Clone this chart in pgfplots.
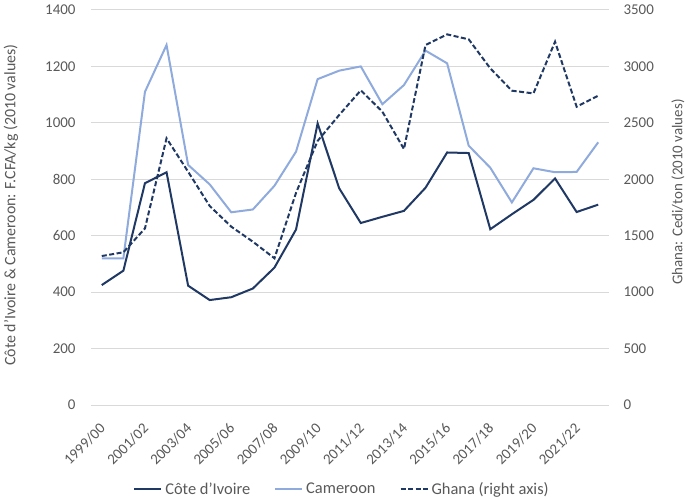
\documentclass[border=0pt]{standalone}
\usepackage{pgfplots}
\pgfplotsset{compat=1.18}
\usepackage{fontspec}
\setmainfont{Carlito}
\definecolor{navy}{HTML}{1F3864}
\definecolor{lightb}{HTML}{8FAADC}
\definecolor{txtgray}{HTML}{595959}
\definecolor{gridgray}{HTML}{D9D9D9}
\pgfplotstableread{
x ci cam gh
0 425 520 1320
1 476 520 1353
2 786 1110 1565
3 825 1276 2363
4 423 851 2067
5 372 782 1763
6 382 683 1580
7 413 693 1447
8 487 777 1300
9 622 898 1880
10 998 1155 2340
11 768 1185 2570
12 645 1200 2788
13 667 1066 2599
14 688 1134 2268
15 770 1256 3190
16 895 1211 3284
17 893 919 3240
18 623 841 2983
19 676 718 2785
20 727 839 2761
21 803 825 3219
22 684 826 2643
23 710 931 2741
}\data
\begin{document}
\begin{tikzpicture}
\begin{axis}[
  name=ax,
  scale only axis, width=518bp, height=395bp,
  xmin=-0.5, xmax=23.5, ymin=0, ymax=1400,
  ytick={0,200,...,1400},
  xtick={0,2,...,22},
  xticklabels={1999/00,2001/02,2003/04,2005/06,2007/08,2009/10,2011/12,2013/14,2015/16,2017/18,2019/20,2021/22},
  axis line style={draw=none}, major tick style={draw=none},
  ymajorgrids, grid style={color=gridgray, line width=1bp},
  font=\fontsize{15}{18}\selectfont, color=txtgray,
  /pgf/number format/assume math mode=true,
  /pgf/number format/set thousands separator={},
  yticklabel style={xshift=-12bp, text=txtgray},
  xticklabel style={xshift=1bp, rotate=45, anchor=east, inner sep=0pt, text=txtgray},
  xticklabel shift=21bp,
  every axis y label/.style={at={(axis description cs:-0.1544,0.506)}, rotate=90, anchor=center, text=txtgray, font=\fontsize{16}{19}\selectfont},
  ylabel={Côte d’Ivoire \& Cameroon: F.CFA/kg (2010 values)},
  legend columns=3,
  legend style={at={(axis description cs:0.4826,-0.2127)}, anchor=center, draw=none, fill=none, text=txtgray,
    font=\fontsize{16.5}{19}\selectfont,
    nodes={inner sep=0pt},
    /tikz/every odd column/.append style={column sep=3bp},
    /tikz/every even column/.append style={column sep=24bp}},
  legend image code/.code={\draw[#1] (0bp,0bp) -- (27bp,0bp);},
]
\addplot[navy, line width=2bp, no marks] table[x=x, y=ci] {\data};
\addlegendentry{Côte d’Ivoire}
\addplot[lightb, line width=2bp, no marks] table[x=x, y=cam] {\data};
\addlegendentry{Cameroon}
\addlegendimage{navy, line width=2bp, dash pattern=on 5bp off 2.5bp}
\addlegendentry{Ghana (right axis)}
\end{axis}
\begin{axis}[
  scale only axis, width=518bp, height=395bp,
  xmin=-0.5, xmax=23.5, ymin=0, ymax=3500,
  ytick={0,500,...,3500}, xtick=\empty,
  axis y line*=right, axis x line=none,
  axis line style={draw=none}, major tick style={draw=none},
  font=\fontsize{15}{18}\selectfont, color=txtgray,
  /pgf/number format/assume math mode=true,
  /pgf/number format/set thousands separator={},
  yticklabel style={xshift=11bp, text=txtgray},
  every axis y label/.style={at={(axis description cs:1.133,0.539)}, rotate=90, anchor=center, text=txtgray},
  ylabel={Ghana: Cedi/ton (2010 values)},
]
\addplot[navy, line width=2bp, dash pattern=on 5bp off 2.5bp, no marks] table[x=x, y=gh] {\data};
\end{axis}
\pgfresetboundingbox
\path[use as bounding box] ([shift={(-91bp,-95bp)}]ax.south west) rectangle ([shift={(594bp,405bp)}]ax.south west);
\end{tikzpicture}
\end{document}
